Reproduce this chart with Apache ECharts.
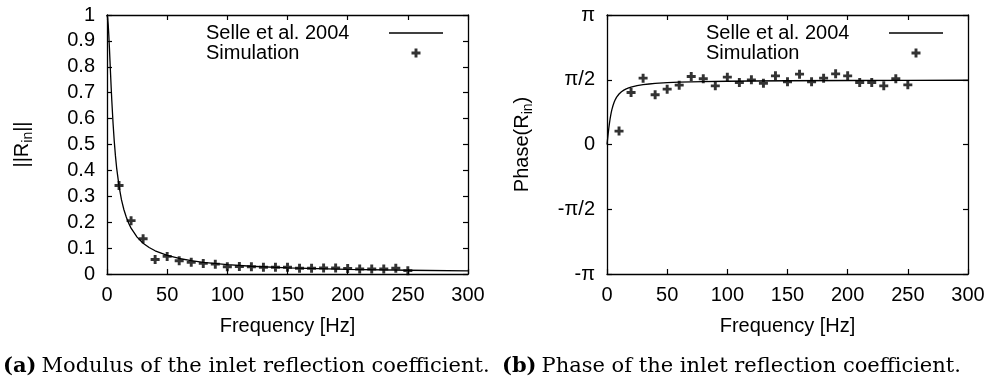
<!DOCTYPE html>
<html><head><meta charset="utf-8">
<script src="https://cdn.jsdelivr.net/npm/echarts@6/dist/echarts.min.js"></script>
<style>html,body{margin:0;padding:0;background:#fff}#c{width:995px;height:383px}</style>
</head><body><div id="c"></div>
<script>
// ---- data ----
const simFreq = [10,20,30,40,50,60,70,80,90,100,110,120,130,140,150,160,170,180,190,200,210,220,230,240,250];
const simModulus = [0.342,0.206,0.136,0.056,0.068,0.051,0.045,0.041,0.038,0.028,0.029,0.028,0.026,0.026,0.026,0.022,0.022,0.023,0.023,0.021,0.019,0.019,0.019,0.022,0.013];
const simPhase = [0.325,1.261,1.610,1.205,1.343,1.440,1.649,1.593,1.423,1.634,1.503,1.568,1.488,1.665,1.520,1.707,1.520,1.610,1.714,1.665,1.503,1.503,1.423,1.593,1.447]; // radians
const modelFreq = [0,0.5,1,1.5,2,2.5,3,3.5,4,5,6,7,8,10,12,14,16,18,20,25,30,35,40,50,60,70,80,100,120,150,200,250,300];
const modelModulus = [1,0.990,0.963,0.923,0.874,0.821,0.768,0.717,0.669,0.584,0.514,0.457,0.410,0.339,0.287,0.249,0.220,0.196,0.177,0.1425,0.119,0.1024,0.0896,0.0718,0.0599,0.0514,0.0449,0.0360,0.0300,0.0240,0.0180,0.0144,0.0120];
const modelPhase = [0,0.138,0.271,0.395,0.507,0.607,0.695,0.771,0.838,0.947,1.030,1.096,1.148,1.225,1.279,1.319,1.350,1.373,1.392,1.428,1.451,1.468,1.481,1.499,1.511,1.519,1.526,1.535,1.541,1.547,1.553,1.556,1.559]; // radians
const phaseTickValues = [-1,-0.5,0,0.5,1]; // in units of pi
const phaseTickLabels = ['-π','-π/2','0','π/2','π'];
const seriesNames = ['Selle et al. 2004','Simulation'];
const captionA = ['(a)','Modulus of the inlet reflection coefficient.'];
const captionB = ['(b)','Phase of the inlet reflection coefficient.'];

// ---- chart ----
const SANS = 'Liberation Sans';
const FS = 20;
const plusPath = 'path://M2.7,0H5.3V2.7H8V5.3H5.3V8H2.7V5.3H0V2.7H2.7Z';
const lineIcon = 'path://M0,0H54V1.3H0Z';
const pair = (xs, ys, k) => xs.map((x, i) => [x, ys[i] * (k || 1)]);

const axisLine = {show: true, onZero: false, lineStyle: {color: '#000', width: 1.3}};
const tick = {show: true, inside: true, length: 5, lineStyle: {color: '#000', width: 1.2}};

function xAxes(grid) {
  return [
    {gridIndex: grid, type: 'value', position: 'bottom', min: 0, max: 300, interval: 50,
     axisLine, axisTick: tick, splitLine: {show: false},
     axisLabel: {color: '#000', fontFamily: SANS, fontSize: FS, margin: 11},
     name: 'Frequency [Hz]', nameLocation: 'middle', nameGap: 42,
     nameTextStyle: {color: '#000', fontFamily: SANS, fontSize: FS}},
    {gridIndex: grid, type: 'value', position: 'top', min: 0, max: 300, interval: 50,
     axisLine, axisTick: tick, splitLine: {show: false}, axisLabel: {show: false}}
  ];
}

const nameRich = {
  a: {fontFamily: SANS, fontSize: FS, color: '#000', lineHeight: 26, verticalAlign: 'middle'},
  s: {fontFamily: SANS, fontSize: 14, color: '#000', lineHeight: 14, verticalAlign: 'bottom'}
};

const yAxes = [
  {gridIndex: 0, type: 'value', position: 'left', min: 0, max: 1, interval: 0.1,
   axisLine, axisTick: tick, splitLine: {show: false},
   axisLabel: {color: '#000', fontFamily: SANS, fontSize: FS, margin: 12},
   name: '{a|||R}{s|in}{a|||}', nameLocation: 'middle', nameGap: 72, nameRotate: 90,
   nameTextStyle: {rich: nameRich}},
  {gridIndex: 0, type: 'value', position: 'right', min: 0, max: 1, interval: 0.1,
   axisLine, axisTick: tick, splitLine: {show: false}, axisLabel: {show: false}},
  {gridIndex: 1, type: 'value', position: 'left', min: -1, max: 1, interval: 0.5,
   axisLine, axisTick: tick, splitLine: {show: false},
   axisLabel: {color: '#000', fontFamily: SANS, fontSize: FS, margin: 12,
     formatter: v => { const i = phaseTickValues.findIndex(t => Math.abs(t - v) < 1e-9); return i >= 0 ? phaseTickLabels[i] : ''; }},
   name: '{a|Phase(R}{s|in}{a|)}', nameLocation: 'middle', nameGap: 72, nameRotate: 90,
   nameTextStyle: {rich: nameRich}},
  {gridIndex: 1, type: 'value', position: 'right', min: -1, max: 1, interval: 0.5,
   axisLine, axisTick: tick, splitLine: {show: false}, axisLabel: {show: false}}
];

function legendAt(left) {
  return {
    left: left, top: 18, orient: 'vertical', align: 'right',
    itemWidth: 54, itemHeight: 9, itemGap: 0, selectedMode: false,
    data: [{name: seriesNames[0], icon: lineIcon}, {name: seriesNames[1], icon: plusPath}],
    formatter: '{t|{name}}',
    textStyle: {color: '#000', rich: {t: {width: 178, align: 'left', fontFamily: SANS, fontSize: FS, color: '#000', lineHeight: 20}}}
  };
}

function caption(left, c) {
  return {
    left: left, top: 356, padding: 0,
    text: '{b|' + c[0] + '} {n|' + c[1] + '}',
    textStyle: {fontWeight: 'normal', rich: {
      b: {fontFamily: 'DejaVu Serif', fontWeight: 'bold', fontSize: 21, color: '#000'},
      n: {fontFamily: 'DejaVu Serif', fontWeight: 'normal', fontSize: 21, color: '#000'}
    }}
  };
}

const chart = echarts.init(document.getElementById('c'), null, {renderer: 'canvas'});
chart.setOption({
  animation: false,
  backgroundColor: '#fff',
  title: [caption(3, captionA), caption(502, captionB)],
  grid: [
    {left: 107, top: 15, width: 361, height: 259},
    {left: 607, top: 15, width: 361, height: 259}
  ],
  xAxis: [...xAxes(0), ...xAxes(1)],
  yAxis: yAxes,
  legend: [legendAt(201), legendAt(701)],
  series: [
    {name: seriesNames[0], type: 'line', xAxisIndex: 0, yAxisIndex: 0, data: pair(modelFreq, modelModulus),
     symbol: 'none', lineStyle: {color: '#000', width: 1.3}, itemStyle: {color: '#000'}},
    {name: seriesNames[1], type: 'scatter', xAxisIndex: 0, yAxisIndex: 0, data: pair(simFreq, simModulus),
     symbol: plusPath, symbolSize: 9, itemStyle: {color: '#000'}, z: 3},
    {name: seriesNames[0], type: 'line', xAxisIndex: 2, yAxisIndex: 2, data: pair(modelFreq, modelPhase, 1 / Math.PI),
     symbol: 'none', lineStyle: {color: '#000', width: 1.3}, itemStyle: {color: '#000'}},
    {name: seriesNames[1], type: 'scatter', xAxisIndex: 2, yAxisIndex: 2, data: pair(simFreq, simPhase, 1 / Math.PI),
     symbol: plusPath, symbolSize: 9, itemStyle: {color: '#000'}, z: 3}
  ]
});
</script></body></html>
